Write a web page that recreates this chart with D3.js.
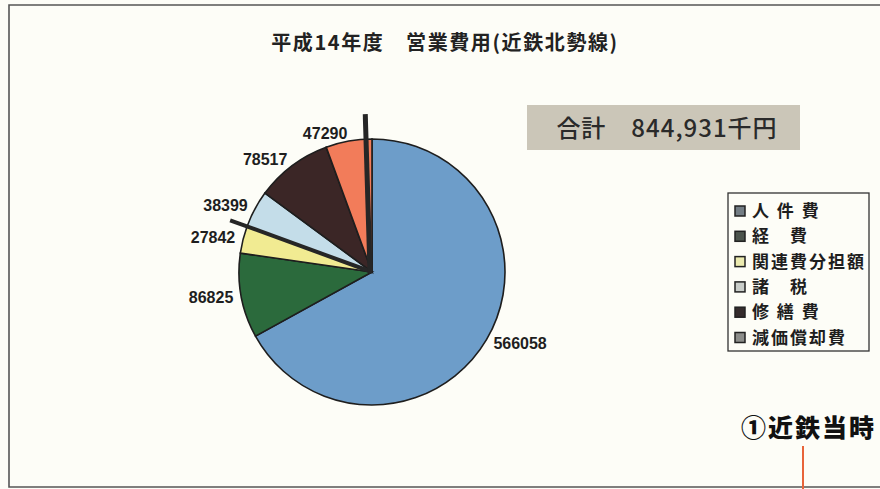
<!DOCTYPE html>
<html><head><meta charset="utf-8">
<script src="https://cdn.jsdelivr.net/npm/d3@7"></script>
<style>
html,body{margin:0;padding:0;background:#fdfdf7;}
svg{display:block;}
</style></head>
<body>
<script>
const title = "平成14年度　営業費用(近鉄北勢線)";
const totalText = "合計　844,931千円";
const categories = ["人件費", "経費", "関連費分担額", "諸税", "修繕費", "減価償却費"];
const legendLabels = ["人 件 費", "経　費", "関連費分担額", "諸　税", "修 繕 費", "減価償却費"];
const values = [566058, 86825, 27842, 38399, 78517, 47290];
const sliceColors = ["#6d9dc9", "#2b6a3c", "#f1eb92", "#c4dde9", "#3b2626", "#f27c5a"];
const legendColors = ["#737d84", "#4c544c", "#ecebb0", "#c9cdc9", "#352c2c", "#8c8d8a"];
const note = "①近鉄当時";

const W = 880, H = 489;
const svg = d3.select("body").append("svg").attr("width", W).attr("height", H);
svg.append("rect").attr("width", W).attr("height", H).attr("fill", "#fdfdf7");
// frame
svg.append("path").attr("d", `M${W+2},5 H9 V487 H${W+2}`).attr("fill","none").attr("stroke","#555").attr("stroke-width",1.6);

svg.append("text").attr("x", 445).attr("y", 50).attr("text-anchor","middle")
  .attr("font-family","'Noto Sans CJK JP'").attr("font-weight","bold").attr("font-size",20)
  .attr("letter-spacing",1.6).attr("fill","#222").text(title);

// total box
svg.append("rect").attr("x",527).attr("y",105).attr("width",273).attr("height",45).attr("fill","#cbc6b8");
svg.append("text").attr("x",667).attr("y",137).attr("text-anchor","middle")
  .attr("font-family","'Noto Sans CJK JP'").attr("font-weight","500").attr("font-size",24)
  .attr("letter-spacing",1).attr("fill","#2a2a2a").text(totalText);

const cx = 372, cy = 272, r = 133;
const pie = d3.pie().sort(null).value(d => d)(values);
const arc = d3.arc().innerRadius(0).outerRadius(r);
const g = svg.append("g").attr("transform", `translate(${cx},${cy})`);
g.selectAll("path.slice").data(pie).enter().append("path").attr("class","slice")
  .attr("d", arc).attr("fill",(d,i)=>sliceColors[i]).attr("stroke","#1e1e1e").attr("stroke-width",1.6);

// thick leader bars at slice boundaries
const bars = [{a: pie[3].startAngle, len: 151, w: 4, dx: 0}, {a: pie[5].endAngle - 0.03, len: 158, w: 5, dx: -2}];
g.selectAll("line.bar").data(bars).enter().append("line")
  .attr("x1", d=>d.dx).attr("y1",0)
  .attr("x2", d=>d.dx + d.len*Math.sin(d.a)).attr("y2", d=>-d.len*Math.cos(d.a))
  .attr("stroke","#262626").attr("stroke-width",d=>d.w);

// labels
const labelR = 141;
g.selectAll("text.lbl").data(pie).enter().append("text").attr("class","lbl")
  .attr("x", d=>{const m=(d.startAngle+d.endAngle)/2; return labelR*Math.sin(m);})
  .attr("y", d=>{const m=(d.startAngle+d.endAngle)/2; return -labelR*Math.cos(m);})
  .attr("dy","0.35em")
  .attr("text-anchor", d=>((d.startAngle+d.endAngle)/2 < Math.PI) ? "start" : "end")
  .attr("font-family","'Liberation Sans', Arial").attr("font-weight","bold").attr("font-size",16)
  .attr("fill","#1e1e1e").text(d=>d.data);

// legend
const lg = svg.append("g").attr("transform","translate(728,193)");
lg.append("rect").attr("width",141).attr("height",158).attr("fill","#fdfdf7").attr("stroke","#333").attr("stroke-width",1.3);
const item = lg.selectAll("g.item").data(categories).enter().append("g")
  .attr("transform",(d,i)=>`translate(7,${18 + i*25.3})`);
item.append("rect").attr("x",0).attr("y",-5).attr("width",10).attr("height",10)
  .attr("fill",(d,i)=>legendColors[i]).attr("stroke","#222").attr("stroke-width",1.5);
item.append("text").attr("x",17).attr("dy","0.36em").attr("font-family","'Noto Sans CJK JP'")
  .attr("font-weight","bold").attr("font-size",17).attr("letter-spacing",2).attr("fill","#1e1e1e")
  .style("white-space","pre").text((d,i)=>legendLabels[i]);

svg.append("text").attr("x",876).attr("y",437).attr("text-anchor","end")
  .attr("font-family","'Noto Sans CJK JP'").attr("font-weight","900").attr("font-size",25)
  .attr("letter-spacing",2).attr("fill","#111").text(note);
svg.append("line").attr("x1",803).attr("x2",803).attr("y1",446).attr("y2",489).attr("stroke","#e8643a").attr("stroke-width",2);
</script>
</body></html>
